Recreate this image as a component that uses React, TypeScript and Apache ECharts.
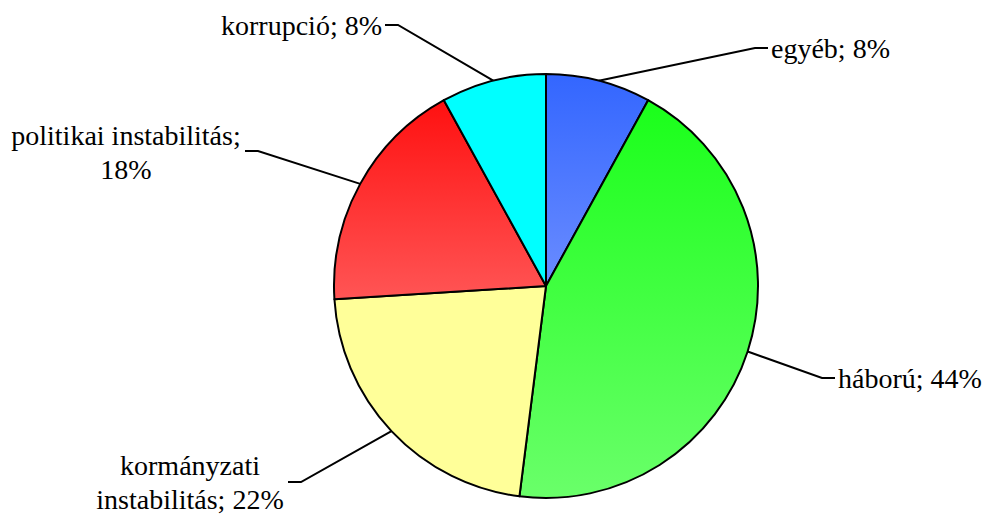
import React, { useEffect, useRef } from "react";
import * as echarts from "echarts";

// ---- data ----
const categories = ["egyéb", "háború", "kormányzati instabilitás", "politikai instabilitás", "korrupció"];
const values = [8, 44, 22, 18, 8];
// how each label text is broken over lines
const labelNameText = ["egyéb", "háború", "kormányzati\ninstabilitás", "politikai instabilitás", "korrupció"];
const labelSeparator = ["; ", "; ", "; ", ";\n", "; "];

// ---- styling / layout ----
const gradients: [string, string][] = [
  ["#3366ff", "#6a8cff"],
  ["#1aff1a", "#6aff6a"],
  ["#ffff99", "#ffff99"],
  ["#ff1010", "#ff5555"],
  ["#00ffff", "#00ffff"],
];
// label anchor [x, y, align]
const labelAnchor: [number, number, string][] = [
  [771, 48, "left"],
  [838, 378, "left"],
  [190, 482, "center"],
  [126, 152, "center"],
  [382, 25, "right"],
];
// end of leader line [x, y, direction of elbow (+1 → elbow to the right)]
const lineEnd: [number, number, number][] = [
  [768, 48, -1],
  [835, 378, -1],
  [288, 482, 1],
  [245, 151, 1],
  [385, 25, 1],
];

export default function App() {
  const ref = useRef<HTMLDivElement>(null);
  useEffect(() => {
    if (!ref.current) return;
    const chart = echarts.init(ref.current, null, { renderer: "svg" });
    const data = categories.map((name, i) => ({
      name,
      value: values[i],
      itemStyle: {
        color: new echarts.graphic.LinearGradient(0, 0, 0, 1, [
          { offset: 0, color: gradients[i][0] },
          { offset: 1, color: gradients[i][1] },
        ]),
      },
    }));
    chart.setOption({
      animation: false,
      backgroundColor: "#ffffff",
      series: [
        {
          type: "pie",
          center: [546, 286],
          radius: 212,
          startAngle: 90,
          clockwise: true,
          avoidLabelOverlap: false,
          data,
          itemStyle: { borderColor: "#000000", borderWidth: 2 },
          emphasis: { disabled: true },
          label: {
            show: true,
            position: "outside",
            fontFamily: "Liberation Serif",
            fontSize: 28,
            lineHeight: 34,
            color: "#000000",
            formatter: (p: any) =>
              labelNameText[p.dataIndex] + labelSeparator[p.dataIndex] + p.value + "%",
          },
          labelLine: {
            show: true,
            length: 20,
            length2: 20,
            smooth: false,
            lineStyle: { color: "#000000", width: 2 },
          },
          labelLayout: (params: any) => {
            const i = params.dataIndex;
            const a = labelAnchor[i];
            const e = lineEnd[i];
            const pts = params.labelLinePoints;
            const start = pts && pts[0] ? pts[0] : [e[0], e[1]];
            return {
              x: a[0],
              y: a[1],
              align: a[2],
              verticalAlign: "middle",
              labelLinePoints: [
                [start[0], start[1]],
                [e[0] + e[2] * 13, e[1]],
                [e[0], e[1]],
              ],
            };
          },
        },
      ],
    });
    return () => chart.dispose();
  }, []);
  return (
    <div
      ref={ref}
      style={{ position: "fixed", left: 0, top: 0, width: 988, height: 514 }}
    />
  );
}
